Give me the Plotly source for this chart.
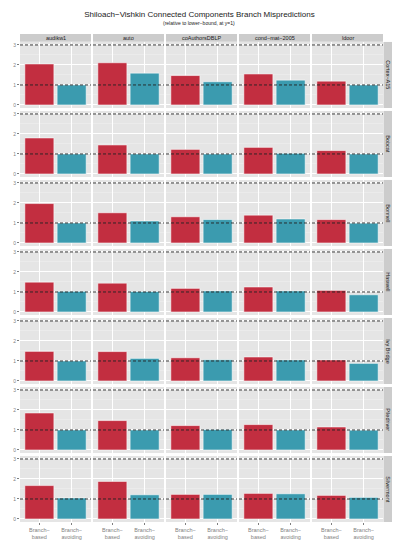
import plotly.graph_objects as go

datasets = ["audikw1", "auto", "coAuthorsDBLP", "cond\u2212mat\u22122005", "ldoor"]
machines = ["Cortex\u2212A15", "Bobcat", "Bonnell", "Haswell", "Ivy Bridge", "Piledriver", "Silvermont"]
categories = ["Branch\u2212<br>based", "Branch\u2212<br>avoiding"]

# rows = machines, columns = datasets
branch_based = [
    [2.05, 2.11, 1.47, 1.55, 1.19],
    [1.80, 1.45, 1.23, 1.33, 1.17],
    [1.97, 1.51, 1.31, 1.39, 1.17],
    [1.49, 1.44, 1.18, 1.25, 1.08],
    [1.48, 1.47, 1.16, 1.20, 1.05],
    [1.85, 1.47, 1.22, 1.27, 1.15],
    [1.67, 1.88, 1.23, 1.28, 1.18],
]
branch_avoiding = [
    [1.00, 1.59, 1.16, 1.24, 1.00],
    [1.00, 1.00, 1.00, 1.03, 1.00],
    [1.00, 1.10, 1.17, 1.20, 0.99],
    [1.03, 1.02, 1.05, 1.05, 0.86],
    [1.00, 1.13, 1.06, 1.05, 0.88],
    [1.00, 1.00, 1.02, 1.00, 0.99],
    [1.05, 1.21, 1.23, 1.26, 1.08],
]
ref_lines = [1, 3]
y_ticks = [0, 1, 2, 3]

RED = "#C22E40"
TEAL = "#3B9BAF"
PANEL_BG = "#E5E5E5"
STRIP_BG = "#CCCCCC"
FONT = "Liberation Sans, Arial, sans-serif"

W, H = 399, 552
ML, MR, MT, MB = 20, 16, 34, 27
PW = W - ML - MR
PH = H - MT - MB
strip_h = 8
gap_x, gap_y = 2, 3
ncol, nrow = len(datasets), len(machines)
cell_w = (PW - gap_x * (ncol - 1)) / ncol
cell_h = (PH - strip_h - gap_y * (nrow - 1)) / nrow


def px_to_py(y):
    return (H - MB - y) / PH


def px_to_px(x):
    return (x - ML) / PW


fig = go.Figure()
layout = {}
shapes = []
annotations = []

# panel backgrounds
for i in range(nrow):
    top = MT + strip_h + i * (cell_h + gap_y)
    bot = top + cell_h
    for j in range(ncol):
        left = ML + j * (cell_w + gap_x)
        shapes.append(dict(type="rect", xref="paper", yref="paper",
                           x0=px_to_px(left), x1=px_to_px(left + cell_w),
                           y0=px_to_py(bot), y1=px_to_py(top),
                           fillcolor=PANEL_BG, line=dict(width=0), layer="below"))

for i, m in enumerate(machines):
    top = MT + strip_h + i * (cell_h + gap_y)
    bot = top + cell_h
    for j, d in enumerate(datasets):
        k = i * ncol + j + 1
        left = ML + j * (cell_w + gap_x)
        right = left + cell_w
        xa = "xaxis" if k == 1 else f"xaxis{k}"
        ya = "yaxis" if k == 1 else f"yaxis{k}"
        xr = "x" if k == 1 else f"x{k}"
        yr = "y" if k == 1 else f"y{k}"
        fig.add_trace(go.Bar(
            x=[0, 1], y=[branch_based[i][j], branch_avoiding[i][j]],
            width=0.9,
            marker=dict(color=[RED, TEAL], line=dict(color="rgba(255,255,255,0.55)", width=1)),
            xaxis=xr, yaxis=yr, showlegend=False, hoverinfo="y"))
        layout[xa] = dict(
            domain=[px_to_px(left), px_to_px(right)], anchor=yr,
            range=[-0.6, 1.6], tickvals=[0, 1], ticktext=categories,
            showticklabels=(i == nrow - 1), ticks="outside" if i == nrow - 1 else "",
            ticklen=2, tickcolor="#7F7F7F", tickfont=dict(size=5.5, color="#7F7F7F", family=FONT),
            showgrid=True, gridcolor="white", gridwidth=1, zeroline=False, showline=False,
            fixedrange=True)
        layout[ya] = dict(
            domain=[px_to_py(bot), px_to_py(top)], anchor=xr,
            range=[-0.15, 3.15], tickvals=y_ticks,
            showticklabels=(j == 0), ticks="outside" if j == 0 else "",
            ticklen=2, tickcolor="#7F7F7F", tickfont=dict(size=5, color="#7F7F7F", family=FONT),
            showgrid=True, gridcolor="white", gridwidth=1,
            minor=dict(dtick=0.5, showgrid=True, gridcolor="#F2F2F2", gridwidth=0.5, ticks=""),
            zeroline=False, showline=False, fixedrange=True)
        for yv in ref_lines:
            shapes.append(dict(type="line", xref=f"{xr} domain", yref=yr, x0=0, x1=1, y0=yv, y1=yv,
                               line=dict(color="#222222", width=0.9, dash="3px,2px"), layer="above"))
        if i == 0:
            shapes.append(dict(type="rect", xref="paper", yref="paper",
                               x0=px_to_px(left), x1=px_to_px(right),
                               y0=px_to_py(MT + strip_h - 0.3), y1=px_to_py(MT),
                               fillcolor=STRIP_BG, line=dict(width=0), layer="below"))
            annotations.append(dict(text=d, xref="paper", yref="paper",
                                    x=px_to_px((left + right) / 2), y=px_to_py(MT + strip_h / 2),
                                    showarrow=False, font=dict(size=5.5, color="#1A1A1A", family=FONT),
                                    xanchor="center", yanchor="middle"))
    # right strip
    sx0 = ML + PW + 0.5
    sx1 = sx0 + 8.5
    shapes.append(dict(type="rect", xref="paper", yref="paper",
                       x0=px_to_px(sx0), x1=px_to_px(sx1),
                       y0=px_to_py(bot), y1=px_to_py(top),
                       fillcolor=STRIP_BG, line=dict(width=0), layer="below"))
    annotations.append(dict(text=m, xref="paper", yref="paper",
                            x=px_to_px((sx0 + sx1) / 2), y=px_to_py((top + bot) / 2),
                            textangle=90, showarrow=False,
                            font=dict(size=5.5, color="#1A1A1A", family=FONT),
                            xanchor="center", yanchor="middle"))

annotations.append(dict(text="(relative to lower\u2212bound, at y=1)", xref="paper", yref="paper",
                        x=px_to_px(199), y=px_to_py(23), showarrow=False,
                        font=dict(size=5, color="#1A1A1A", family=FONT),
                        xanchor="center", yanchor="middle"))

fig.update_layout(
    width=W, height=H,
    margin=dict(l=ML, r=MR, t=MT, b=MB, pad=0),
    paper_bgcolor="white", plot_bgcolor="rgba(0,0,0,0)",
    title=dict(text="Shiloach\u2212Vishkin Connected Components Branch Mispredictions",
               x=0.5, xanchor="center", y=1 - 14 / H, yanchor="middle",
               font=dict(size=8, color="#1A1A1A", family=FONT)),
    shapes=shapes, annotations=annotations,
    bargap=0.1, showlegend=False, hovermode=False,
    **layout,
)

fig.write_html("out.html",
               config={"displayModeBar": False, "staticPlot": True},
               post_script="document.body.style.margin='0';document.body.style.padding='0';"
                           "document.documentElement.style.overflow='hidden';")
